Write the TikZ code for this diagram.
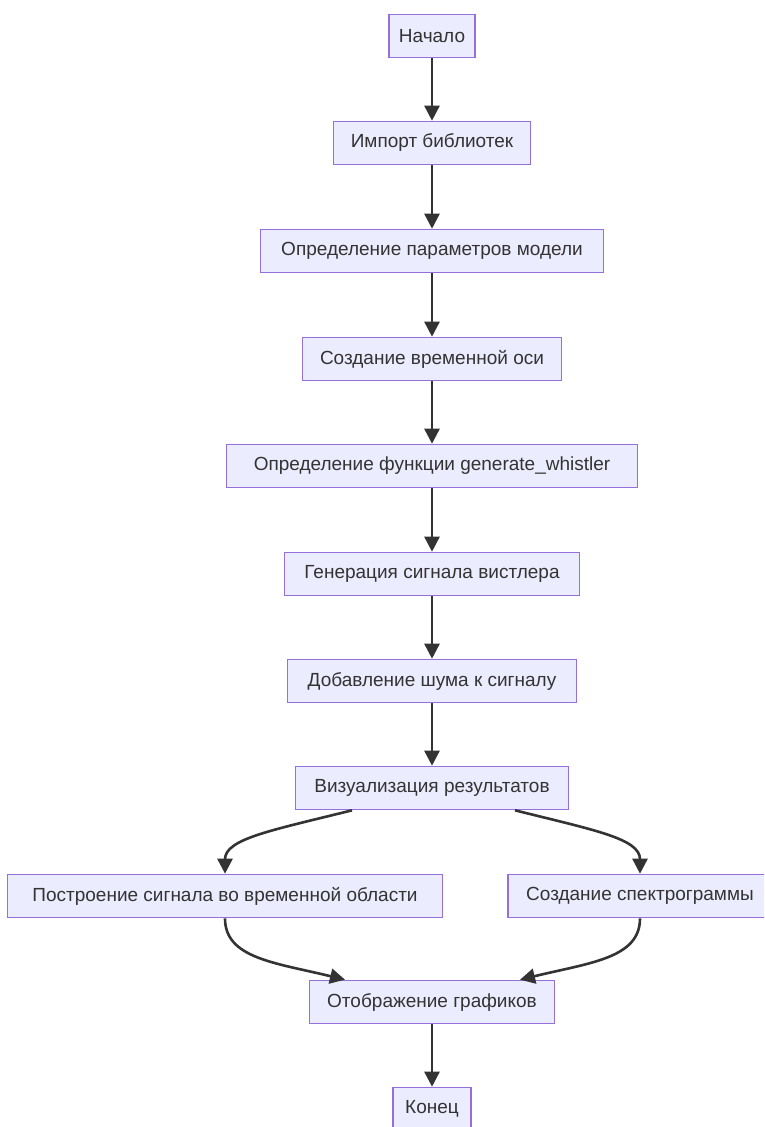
\documentclass[tikz,border=0pt]{standalone}
\usepackage{fontspec}
\setmainfont{Liberation Sans}
\usetikzlibrary{arrows.meta}
\definecolor{nodefill}{HTML}{ECECFF}
\definecolor{nodeborder}{HTML}{9370DB}
\definecolor{edgecol}{HTML}{333333}
\begin{document}
\begin{tikzpicture}[x=1pt,y=1pt,
  box/.style={draw=nodeborder, fill=nodefill, line width=1.6pt, minimum height=43pt, inner sep=0pt, text=edgecol, font=\fontsize{19}{22}\selectfont},
  edge/.style={draw=edgecol, line width=2.6pt, -{Triangle[length=15pt,width=15pt]}}
]
\useasboundingbox (0,0) rectangle (764,-1127);
\clip (0,0) rectangle (764,-1127);
\node[box, minimum width=86pt]  (n1)  at (432,-36)   {Начало};
\node[box, minimum width=197pt] (n2)  at (432,-143)  {Импорт библиотек};
\node[box, minimum width=343pt] (n3)  at (432,-251)  {Определение параметров модели};
\node[box, minimum width=259pt] (n4)  at (432,-359)  {Создание временной оси};
\node[box, minimum width=411pt] (n5)  at (432,-466)  {Определение функции generate\_whistler};
\node[box, minimum width=295pt] (n6)  at (432,-574)  {Генерация сигнала вистлера};
\node[box, minimum width=289pt] (n7)  at (432,-681)  {Добавление шума к сигналу};
\node[box, minimum width=273pt] (n8)  at (432,-788)  {Визуализация результатов};
\node[box, minimum width=435pt] (n9)  at (225,-896)  {Построение сигнала во временной области};
\node[box, minimum width=264pt] (n10) at (640,-896)  {Создание спектрограммы};
\node[box, minimum width=245pt] (n11) at (432,-1002) {Отображение графиков};
\node[box, minimum width=78pt]  (n12) at (432,-1109) {Конец};

\draw[edge] (n1) -- (n2);
\draw[edge] (n2) -- (n3);
\draw[edge] (n3) -- (n4);
\draw[edge] (n4) -- (n5);
\draw[edge] (n5) -- (n6);
\draw[edge] (n6) -- (n7);
\draw[edge] (n7) -- (n8);
\draw[edge] ([xshift=-80pt]n8.south) .. controls +(-80,-20) and +(0,35) .. (n9.north);
\draw[edge] ([xshift=83pt]n8.south) .. controls +(80,-20) and +(0,35) .. (n10.north);
\draw[edge] (n9.south) .. controls +(0,-40) and +(-70,17) .. ([xshift=-87pt]n11.north);
\draw[edge] (n10.south) .. controls +(0,-40) and +(70,17) .. ([xshift=88pt]n11.north);
\draw[edge] (n11) -- (n12);
\end{tikzpicture}
\end{document}
